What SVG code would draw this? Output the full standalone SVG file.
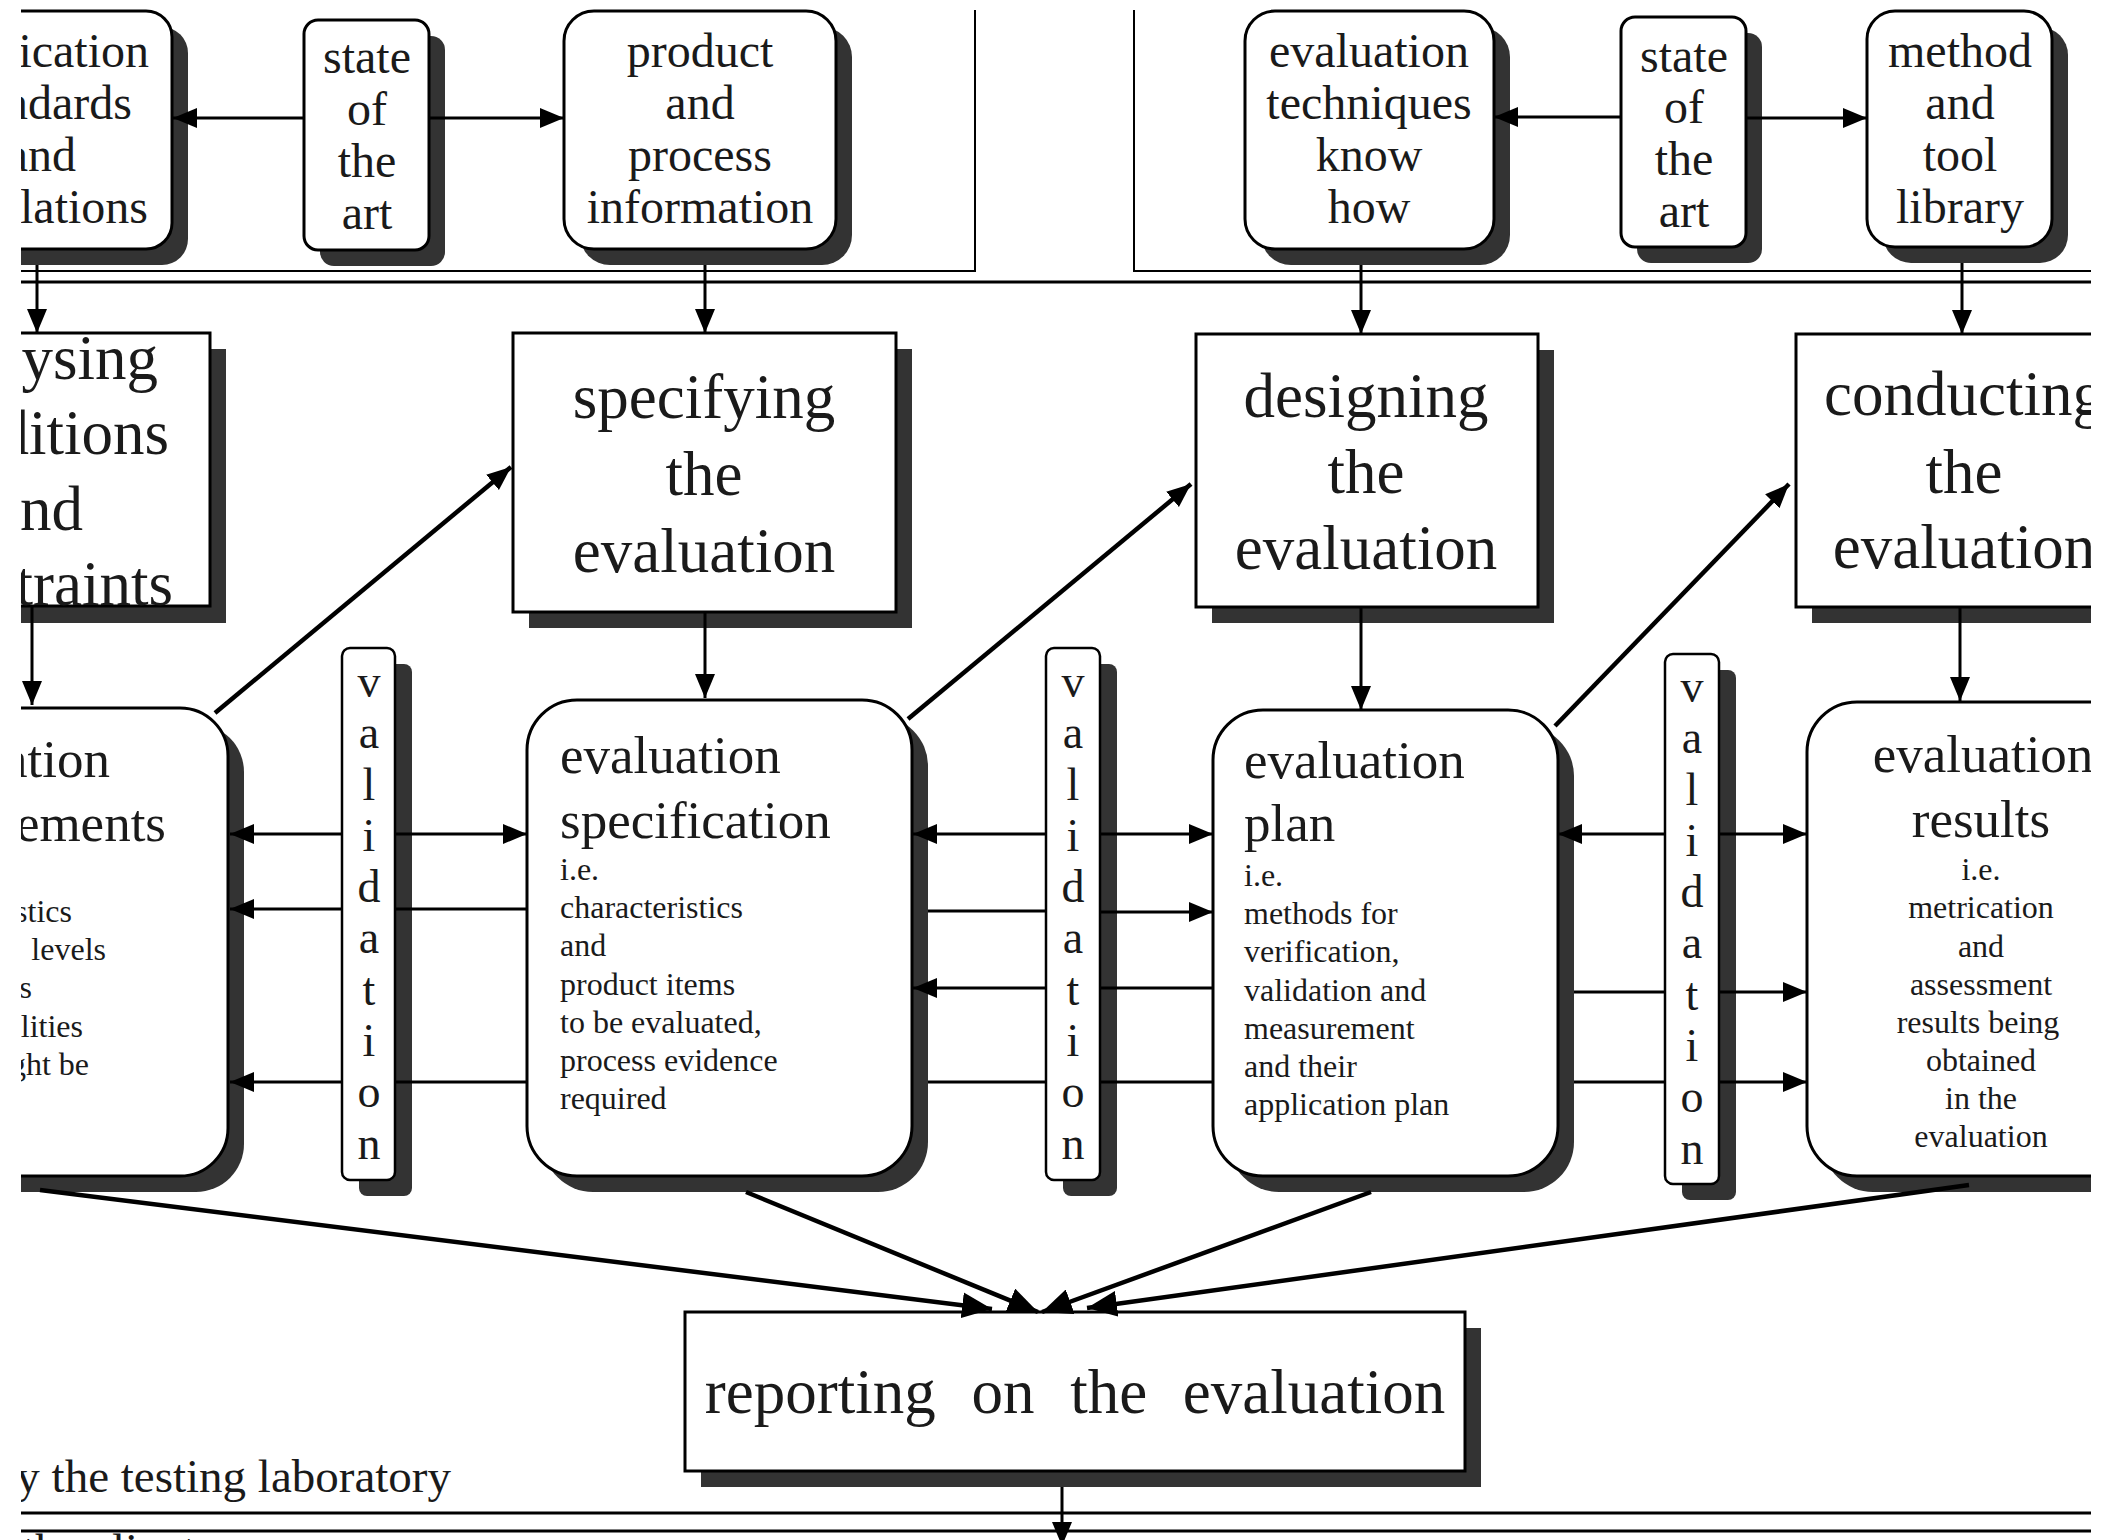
<svg xmlns="http://www.w3.org/2000/svg" width="2107" height="1540" viewBox="0 0 2107 1540">
  <style>
    .box { fill:#fff; stroke:#000; stroke-width:3; }
    .vbox { fill:#fff; stroke:#000; stroke-width:2.5; }
    .shadow { fill:#333; }
    .ln { stroke:#000; stroke-width:3; fill:none; }
    .frame { stroke:#000; stroke-width:2; fill:none; }
    .thick { stroke-width:4.5; }
    .arr { marker-end:url(#ah); }
    .arrL { marker-end:url(#ahL); }
    text { font-family:"Liberation Serif","Times New Roman",serif; fill:#1a1a1a; }
    .big { font-size:63px; }
    .mid { font-size:53px; }
    .top { font-size:48px; }
    .sm { font-size:32px; }
    .val { font-size:46px; text-anchor:middle; }
    .c { text-anchor:middle; }
    .e { text-anchor:end; }
  </style>
  <defs>
    <marker id="ah" markerUnits="userSpaceOnUse" viewBox="0 0 24 20" refX="24" refY="10" markerWidth="24" markerHeight="20" orient="auto">
      <path d="M0,0 L24,10 L0,20 z" fill="#000"/>
    </marker>
    <marker id="ahL" markerUnits="userSpaceOnUse" viewBox="0 0 30 26" refX="30" refY="13" markerWidth="30" markerHeight="26" orient="auto">
      <path d="M0,0 L30,13 L0,26 z" fill="#000"/>
    </marker>
    <clipPath id="page">
      <rect x="21" y="0" width="2070" height="1540"/>
    </clipPath>
  </defs>
  <rect width="2107" height="1540" fill="#fff"/>
  <g clip-path="url(#page)">
    <!-- top row: sources -->
    <g id="standards">
      <rect class="shadow" x="-24" y="27" width="212" height="238" rx="26"/>
      <rect class="box" x="-40" y="11" width="212" height="238" rx="26"/>
      <text class="top e" x="149" y="67">ication</text>
      <text class="top e" x="132" y="119">ndards</text>
      <text class="top e" x="76" y="171">and</text>
      <text class="top e" x="148" y="223">lations</text>
    </g>
    <g id="state-art-1">
      <rect class="shadow" x="320" y="36" width="125" height="230" rx="14"/>
      <rect class="box" x="304" y="20" width="125" height="230" rx="14"/>
      <text class="top c" x="367" y="73">state</text>
      <text class="top c" x="367" y="125">of</text>
      <text class="top c" x="367" y="177">the</text>
      <text class="top c" x="367" y="229">art</text>
    </g>
    <g id="product-info">
      <rect class="shadow" x="580" y="27" width="272" height="238" rx="30"/>
      <rect class="box" x="564" y="11" width="272" height="238" rx="30"/>
      <text class="top c" x="700" y="67">product</text>
      <text class="top c" x="700" y="119">and</text>
      <text class="top c" x="700" y="171">process</text>
      <text class="top c" x="700" y="223">information</text>
    </g>
    <g id="techniques">
      <rect class="shadow" x="1261" y="27" width="249" height="238" rx="30"/>
      <rect class="box" x="1245" y="11" width="249" height="238" rx="30"/>
      <text class="top c" x="1369" y="67">evaluation</text>
      <text class="top c" x="1369" y="119">techniques</text>
      <text class="top c" x="1369" y="171">know</text>
      <text class="top c" x="1369" y="223">how</text>
    </g>
    <g id="state-art-2">
      <rect class="shadow" x="1637" y="33" width="125" height="230" rx="14"/>
      <rect class="box" x="1621" y="17" width="125" height="230" rx="14"/>
      <text class="top c" x="1684" y="72">state</text>
      <text class="top c" x="1684" y="123">of</text>
      <text class="top c" x="1684" y="175">the</text>
      <text class="top c" x="1684" y="227">art</text>
    </g>
    <g id="tool-library">
      <rect class="shadow" x="1883" y="27" width="185" height="236" rx="28"/>
      <rect class="box" x="1867" y="11" width="185" height="236" rx="28"/>
      <text class="top c" x="1960" y="67">method</text>
      <text class="top c" x="1960" y="119">and</text>
      <text class="top c" x="1960" y="171">tool</text>
      <text class="top c" x="1960" y="223">library</text>
    </g>

    <!-- middle row: activities -->
    <g id="analysing">
      <rect class="shadow" x="-24" y="349" width="250" height="274"/>
      <rect class="box" x="-40" y="333" width="250" height="273"/>
      <text class="big e" x="158" y="379">ysing</text>
      <text class="big e" x="169" y="454">ditions</text>
      <text class="big e" x="83" y="530">nd</text>
      <text class="big e" x="173" y="605">traints</text>
    </g>
    <g id="specifying">
      <rect class="shadow" x="529" y="349" width="383" height="279"/>
      <rect class="box" x="513" y="333" width="383" height="279"/>
      <text class="big c" x="704" y="418">specifying</text>
      <text class="big c" x="704" y="495">the</text>
      <text class="big c" x="704" y="572">evaluation</text>
    </g>
    <g id="designing">
      <rect class="shadow" x="1212" y="350" width="342" height="273"/>
      <rect class="box" x="1196" y="334" width="342" height="273"/>
      <text class="big c" x="1366" y="417">designing</text>
      <text class="big c" x="1366" y="493">the</text>
      <text class="big c" x="1366" y="569">evaluation</text>
    </g>
    <g id="conducting">
      <rect class="shadow" x="1812" y="350" width="400" height="273"/>
      <rect class="box" x="1796" y="334" width="400" height="273"/>
      <text class="big c" x="1964" y="415">conducting</text>
      <text class="big c" x="1964" y="493">the</text>
      <text class="big c" x="1964" y="568">evaluation</text>
    </g>

    <!-- lower row: products of each activity -->
    <g id="requirements">
      <rect class="shadow" x="-44" y="724" width="288" height="468" rx="48"/>
      <rect class="box" x="-60" y="708" width="288" height="468" rx="48"/>
      <text class="mid e" x="110" y="777">ation</text>
      <text class="mid e" x="166" y="841">ements</text>
      <text class="sm e" x="72" y="922">stics</text>
      <text class="sm e" x="106" y="960">levels</text>
      <text class="sm e" x="32" y="998">s</text>
      <text class="sm e" x="83" y="1037">lities</text>
      <text class="sm e" x="89" y="1075">ght be</text>
    </g>
    <g id="specification">
      <rect class="shadow" x="543" y="716" width="385" height="476" rx="50"/>
      <rect class="box" x="527" y="700" width="385" height="476" rx="50"/>
      <text class="mid" x="560" y="773">evaluation</text>
      <text class="mid" x="560" y="838">specification</text>
      <text class="sm" x="560" y="880">i.e.</text>
      <text class="sm" x="560" y="918">characteristics</text>
      <text class="sm" x="560" y="956">and</text>
      <text class="sm" x="560" y="995">product items</text>
      <text class="sm" x="560" y="1033">to be evaluated,</text>
      <text class="sm" x="560" y="1071">process evidence</text>
      <text class="sm" x="560" y="1109">required</text>
    </g>
    <g id="plan">
      <rect class="shadow" x="1229" y="726" width="345" height="466" rx="50"/>
      <rect class="box" x="1213" y="710" width="345" height="466" rx="50"/>
      <text class="mid" x="1244" y="778">evaluation</text>
      <text class="mid" x="1244" y="841">plan</text>
      <text class="sm" x="1244" y="886">i.e.</text>
      <text class="sm" x="1244" y="924">methods for</text>
      <text class="sm" x="1244" y="962">verification,</text>
      <text class="sm" x="1244" y="1001">validation and</text>
      <text class="sm" x="1244" y="1039">measurement</text>
      <text class="sm" x="1244" y="1077">and their</text>
      <text class="sm" x="1244" y="1115">application plan</text>
    </g>
    <g id="results">
      <rect class="shadow" x="1823" y="718" width="400" height="474" rx="50"/>
      <rect class="box" x="1807" y="702" width="400" height="474" rx="50"/>
      <text class="mid c" x="1983" y="772">evaluation</text>
      <text class="mid c" x="1981" y="837">results</text>
      <text class="sm c" x="1981" y="880">i.e.</text>
      <text class="sm c" x="1981" y="918">metrication</text>
      <text class="sm c" x="1981" y="957">and</text>
      <text class="sm c" x="1981" y="995">assessment</text>
      <text class="sm c" x="1978" y="1033">results being</text>
      <text class="sm c" x="1981" y="1071">obtained</text>
      <text class="sm c" x="1981" y="1109">in the</text>
      <text class="sm c" x="1981" y="1147">evaluation</text>
    </g>

    <!-- validation bars between the lower boxes -->
    <g id="validation-1">
      <rect class="shadow" x="359" y="664" width="53" height="532" rx="8"/>
      <rect class="vbox" x="342" y="648" width="53" height="532" rx="8"/>
      <text class="val"><tspan x="369" y="697">v</tspan><tspan x="369" y="748">a</tspan><tspan x="369" y="800">l</tspan><tspan x="369" y="851">i</tspan><tspan x="369" y="902">d</tspan><tspan x="369" y="953">a</tspan><tspan x="369" y="1005">t</tspan><tspan x="369" y="1056">i</tspan><tspan x="369" y="1107">o</tspan><tspan x="369" y="1159">n</tspan></text>
    </g>
    <g id="validation-2">
      <rect class="shadow" x="1063" y="664" width="54" height="532" rx="8"/>
      <rect class="vbox" x="1046" y="648" width="54" height="532" rx="8"/>
      <text class="val"><tspan x="1073" y="697">v</tspan><tspan x="1073" y="748">a</tspan><tspan x="1073" y="800">l</tspan><tspan x="1073" y="851">i</tspan><tspan x="1073" y="902">d</tspan><tspan x="1073" y="953">a</tspan><tspan x="1073" y="1005">t</tspan><tspan x="1073" y="1056">i</tspan><tspan x="1073" y="1107">o</tspan><tspan x="1073" y="1159">n</tspan></text>
    </g>
    <g id="validation-3">
      <rect class="shadow" x="1682" y="670" width="54" height="530" rx="8"/>
      <rect class="vbox" x="1665" y="654" width="54" height="530" rx="8"/>
      <text class="val"><tspan x="1692" y="702">v</tspan><tspan x="1692" y="753">a</tspan><tspan x="1692" y="805">l</tspan><tspan x="1692" y="856">i</tspan><tspan x="1692" y="907">d</tspan><tspan x="1692" y="958">a</tspan><tspan x="1692" y="1010">t</tspan><tspan x="1692" y="1061">i</tspan><tspan x="1692" y="1112">o</tspan><tspan x="1692" y="1164">n</tspan></text>
    </g>

    <!-- final activity -->
    <g id="reporting">
      <rect class="shadow" x="701" y="1328" width="780" height="159"/>
      <rect class="box" x="685" y="1312" width="780" height="159"/>
      <text class="big c" x="1075" y="1413" style="word-spacing:20px">reporting on the evaluation</text>
    </g>

    <!-- lane captions -->
    <g id="lane-labels">
      <text class="e" x="451" y="1492" style="font-size:47px">y the testing laboratory</text>
      <text x="22" y="1566" style="font-size:47px">the client</text>
    </g>

    <!-- connectors -->
    <g id="connectors">
      <!-- lane frames and separators -->
      <path class="frame" d="M975,10 L975,271 L21,271"/>
      <path class="frame" d="M1134,10 L1134,271 L2091,271"/>
      <path class="ln" d="M21,282 L2091,282"/>
      <path class="ln" d="M21,1513 L2091,1513"/>
      <path class="ln" d="M21,1531 L2091,1531"/>

      <!-- state of the art feeds -->
      <path class="ln arr" d="M304,118 L173,118"/>
      <path class="ln arr" d="M429,118 L564,118"/>
      <path class="ln arr" d="M1621,117 L1494,117"/>
      <path class="ln arr" d="M1746,118 L1867,118"/>

      <!-- sources into activities -->
      <path class="ln arr" d="M37,265 L37,333"/>
      <path class="ln arr" d="M705,265 L705,333"/>
      <path class="ln arr" d="M1361,265 L1361,334"/>
      <path class="ln arr" d="M1962,263 L1962,334"/>

      <!-- product of one stage drives the next activity -->
      <path class="ln thick arr" d="M215,713 L511,467"/>
      <path class="ln thick arr" d="M908,719 L1191,484"/>
      <path class="ln thick arr" d="M1555,726 L1789,484"/>

      <!-- activities into their products -->
      <path class="ln arr" d="M32,607 L32,705"/>
      <path class="ln arr" d="M705,612 L705,698"/>
      <path class="ln arr" d="M1361,607 L1361,710"/>
      <path class="ln arr" d="M1960,607 L1960,701"/>

      <!-- validation links -->
      <path class="ln arr" d="M342,834 L230,834"/>
      <path class="ln arr" d="M395,834 L527,834"/>
      <path class="ln arr" d="M1046,834 L913,834"/>
      <path class="ln arr" d="M1100,834 L1213,834"/>
      <path class="ln arr" d="M1665,834 L1558,834"/>
      <path class="ln arr" d="M1719,834 L1807,834"/>

      <path class="ln" d="M527,909 L395,909"/>
      <path class="ln arr" d="M342,909 L230,909"/>
      <path class="ln" d="M928,911 L1046,911"/>
      <path class="ln arr" d="M1100,912 L1213,912"/>

      <path class="ln" d="M1213,988 L1100,988"/>
      <path class="ln arr" d="M1046,988 L913,988"/>
      <path class="ln" d="M1574,992 L1665,992"/>
      <path class="ln arr" d="M1719,992 L1807,992"/>

      <path class="ln arr" d="M342,1082 L230,1082"/>
      <path class="ln" d="M395,1082 L527,1082"/>
      <path class="ln" d="M928,1082 L1046,1082"/>
      <path class="ln" d="M1100,1082 L1213,1082"/>
      <path class="ln" d="M1574,1082 L1665,1082"/>
      <path class="ln arr" d="M1719,1082 L1807,1082"/>

      <!-- everything is reported -->
      <path class="ln thick arrL" d="M40,1190 L992,1309"/>
      <path class="ln thick arrL" d="M746,1192 L1038,1312"/>
      <path class="ln thick arrL" d="M1371,1192 L1042,1312"/>
      <path class="ln thick arrL" d="M1969,1185 L1087,1308"/>
      <path class="ln arr" d="M1062,1487 L1062,1546"/>
    </g>
  </g>
</svg>
